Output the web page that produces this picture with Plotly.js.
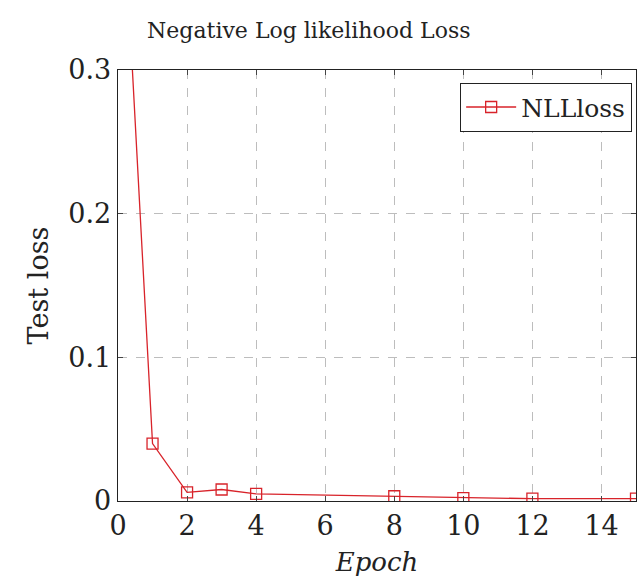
<!DOCTYPE html>
<html>
<head>
<meta charset="utf-8">
<script src="https://cdn.plot.ly/plotly-3.0.1.min.js"></script>
<style>html,body{margin:0;padding:0;background:#fff;}#chart{width:638px;height:577px;}</style>
</head>
<body>
<div id="chart"></div>
<script>
const epochs = [0, 1, 2, 3, 4, 8, 10, 12, 15];
const nllLoss = [0.486, 0.040, 0.006, 0.008, 0.005, 0.0033, 0.002, 0.0016, 0.0016];
const xTicks = [0, 2, 4, 6, 8, 10, 12, 14];
const yTicks = [0, 0.1, 0.2, 0.3];
const yTickLabels = ['0', '0.1', '0.2', '0.3'];

const serif = 'DejaVu Serif, Liberation Serif, serif';
const red = '#d8232a';

const trace = {
  x: epochs, y: nllLoss, name: 'NLLloss', type: 'scatter', mode: 'lines+markers',
  line: {color: red, width: 1.3},
  marker: {symbol: 'square-open', size: 11, color: red, line: {width: 1.3, color: red}}
};

const axisCommon = {
  showline: true, linecolor: '#222', linewidth: 1.3, mirror: 'all',
  ticks: 'inside', ticklen: 5, tickcolor: '#444', tickwidth: 1,
  showgrid: true, gridcolor: '#bdbdbd', griddash: 'dash', gridwidth: 1,
  zeroline: false, tickfont: {family: serif, size: 27, color: '#222'}
};

const layout = {
  width: 638, height: 577,
  margin: {l: 118, r: 2, t: 70, b: 76},
  paper_bgcolor: '#fff', plot_bgcolor: '#fff',
  title: {text: 'Negative Log likelihood Loss', font: {family: serif, size: 22, color: '#222'},
          x: 0.484, xref: 'container', xanchor: 'center', y: 0.948, yref: 'container', yanchor: 'middle'},
  xaxis: Object.assign({}, axisCommon, {
    range: [0, 15], tickmode: 'array', tickvals: xTicks, ticktext: xTicks.map(String),
    title: {text: '<i>Epoch</i>', font: {family: serif, size: 26, color: '#222'}, standoff: 14}
  }),
  yaxis: Object.assign({}, axisCommon, {
    range: [0, 0.3], tickmode: 'array', tickvals: yTicks, ticktext: yTickLabels,
    title: {text: 'Test loss', font: {family: serif, size: 27, color: '#222'}, standoff: 12}
  }),
  showlegend: true,
  legend: {x: 0.992, y: 0.97, xanchor: 'right', yanchor: 'top', bgcolor: '#fff', itemwidth: 50,
           bordercolor: '#222', borderwidth: 1.3, font: {family: serif, size: 25, color: '#222'}}
};

Plotly.newPlot('chart', [trace], layout, {displayModeBar: false, staticPlot: true});
</script>
</body>
</html>
